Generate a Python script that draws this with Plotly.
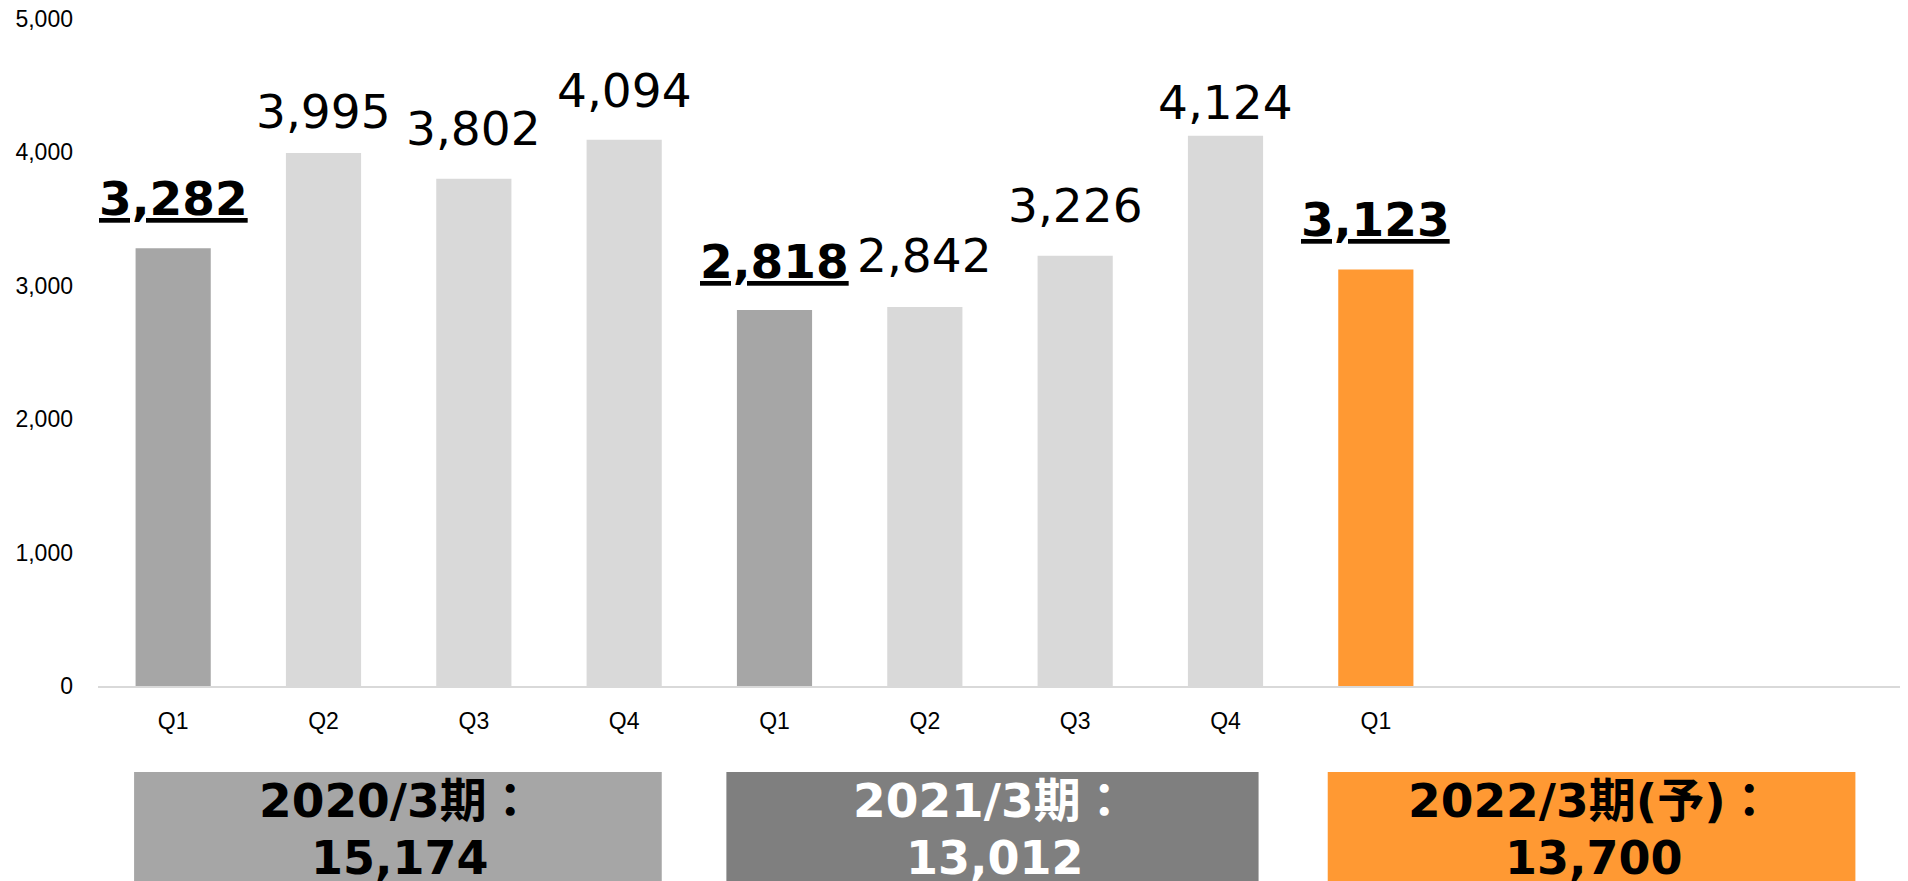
import plotly.graph_objects as go

# ---- data ----
quarters = ["Q1", "Q2", "Q3", "Q4", "Q1", "Q2", "Q3", "Q4", "Q1"]
sales = [3282, 3995, 3802, 4094, 2818, 2842, 3226, 4124, 3123]
period_names = ["2020/3期：", "2021/3期：", "2022/3期(予)："]
period_totals = [15174, 13012, 13700]
y_ticks = [0, 1000, 2000, 3000, 4000, 5000]

# ---- styles / layout ----
QPP = 4  # quarters per period (slots on the axis)
period_fill = ["#A6A6A6", "#7F7F7F", "#FF9933"]
period_font = ["#000000", "#FFFFFF", "#000000"]
# horizontal extent of each period box, relative to the period's first slot
box_extent = [(-0.26, 3.25), (-0.32, 3.22), (-0.32, 3.19)]
# pixel lift of each value label above its bar top
label_lift = [50, 41.5, 50, 49.5, 48.5, 51, 50, 33.5, 50]
LIGHT = "#D9D9D9"
LABEL_FONT = "DejaVu Sans, Noto Sans CJK JP, sans-serif"
BOX_FONT = "DejaVu Sans, Noto Sans CJK JP, sans-serif"
AXIS_FONT = "Liberation Sans, Arial, sans-serif"

n_slots = QPP * len(period_names)
xs = list(range(len(sales)))
last_period = len(period_names) - 1


def bar_color(i):
    p = i // QPP
    if p == last_period:
        return period_fill[p]
    return period_fill[0] if quarters[i] == "Q1" else LIGHT


colors = [bar_color(i) for i in xs]

fig = go.Figure()
fig.add_trace(go.Bar(
    x=xs, y=sales, width=0.5,
    marker=dict(color=colors, line=dict(width=0)),
    hoverinfo="skip", showlegend=False,
))

annotations = []
for i, v in enumerate(sales):
    txt = f"{v:,}"
    if quarters[i] == "Q1":
        txt = f"<b><u>{txt}</u></b>"
    annotations.append(dict(
        x=i, y=v, xref="x", yref="y", text=txt, showarrow=False,
        yanchor="middle", xanchor="center", yshift=label_lift[i],
        font=dict(family=LABEL_FONT, size=47, color="#000000"),
    ))

shapes = []
for p, name in enumerate(period_names):
    start = p * QPP
    x0, x1 = start + box_extent[p][0], start + box_extent[p][1]
    shapes.append(dict(
        type="rect", xref="x", yref="paper",
        x0=x0, x1=x1, y0=-0.40, y1=-0.129,
        fillcolor=period_fill[p], line=dict(width=0), layer="above",
    ))
    cx = (x0 + x1) / 2
    annotations.append(dict(
        x=cx - 0.01, y=-0.171, xref="x", yref="paper", text=f"<b>{name}</b>",
        showarrow=False, xanchor="center", yanchor="middle",
        font=dict(family=BOX_FONT, size=47, color=period_font[p]),
    ))
    annotations.append(dict(
        x=cx + 0.015, y=-0.258, xref="x", yref="paper", text=f"<b>{period_totals[p]:,}</b>",
        showarrow=False, xanchor="center", yanchor="middle",
        font=dict(family=BOX_FONT, size=46, color=period_font[p]),
    ))

fig.update_layout(
    width=1900, height=873,
    margin=dict(l=90, r=6, t=11, b=195, pad=0, autoexpand=False),
    paper_bgcolor="#FFFFFF", plot_bgcolor="#FFFFFF",
    bargap=0.5,
    xaxis=dict(
        range=[-0.5, n_slots - 0.5],
        tickmode="array", tickvals=xs, ticktext=quarters,
        showgrid=False, zeroline=False, automargin=False,
        showline=True, linecolor=LIGHT, linewidth=2,
        ticks="", ticklabelstandoff=13,
        tickfont=dict(family=AXIS_FONT, size=23, color="#000000"),
        fixedrange=True,
    ),
    yaxis=dict(
        range=[0, 5000],
        tickmode="array", tickvals=y_ticks,
        ticktext=[f"{t:,}" for t in y_ticks],
        showgrid=False, zeroline=False, showline=False, automargin=False,
        ticks="", ticklabelstandoff=24, ticklabeloverflow="allow",
        tickfont=dict(family=AXIS_FONT, size=23, color="#000000"),
        fixedrange=True,
    ),
    annotations=annotations,
    shapes=shapes,
)

fig.write_html("out.html")
